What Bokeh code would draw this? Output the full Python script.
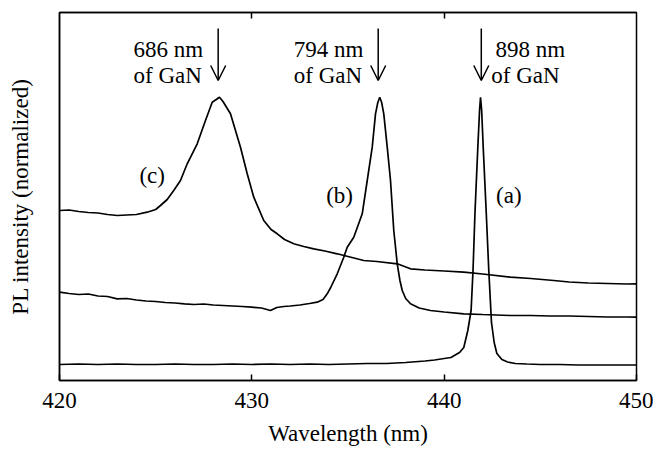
from bokeh.plotting import figure
from bokeh.models import Range1d, LinearAxis, FixedTicker, Arrow, OpenHead, ColumnDataSource
from bokeh.embed import file_html
from bokeh.resources import INLINE
from bokeh.core.properties import value

# ---- data (wavelength in nm, PL intensity in arbitrary normalized units) ----
a_x = [420, 421, 422, 423, 424, 425, 426, 427, 428, 429, 430, 431, 432, 433, 434, 435,
       436, 437, 438, 439, 439.5, 440, 440.35, 440.8, 441.02, 441.23, 441.4, 441.5, 441.6,
       441.75, 441.84, 441.89, 441.95, 442.03, 442.19, 442.32, 442.46, 442.6, 442.74,
       443.0, 443.3, 443.7, 444.3, 445, 446, 447, 448, 449, 450]
a_y = [16, 16.5, 16, 16.5, 16, 16, 16.5, 16, 16, 16.5, 16, 16.5, 16, 16.5, 16, 16.5,
       17, 17, 18, 19.5, 20.5, 22, 23, 28, 33, 50, 70, 110, 166.7,
       233.3, 270, 283.3, 270, 233.3, 166.7, 110, 58, 38, 27,
       21, 18.5, 17, 16.5, 16, 16, 15.5, 15.5, 15.5, 15.5]

b_x = [420, 420.5, 421, 421.5, 422, 422.5, 423, 423.5, 424, 424.5, 425, 425.5, 426, 426.5,
       427, 427.5, 428, 428.5, 429, 429.5, 430, 430.5, 430.97, 431.3, 431.66, 432, 432.5,
       433, 433.4, 433.7, 433.92, 434.1, 434.44, 434.78, 434.96, 435.3, 435.74, 436.0,
       436.26, 436.43, 436.55, 436.65, 436.75, 436.86, 437.04, 437.21, 437.38, 437.56,
       437.7, 437.82, 438.0, 438.25, 438.7, 439.29, 440, 441.02, 442, 443.45, 444.5,
       445.5, 446.5, 447.5, 448.5, 449.5, 450]
b_y = [88.3, 87, 86, 86.5, 84.5, 84, 81.7, 82, 80.5, 79.5, 79, 78, 77.5, 76.7,
       76, 76.5, 75.5, 75, 74.5, 74, 73.3, 72.5, 70, 73, 74, 74.5, 75.5,
       77, 78.3, 81, 86.7, 93, 106.7, 123.3, 133.3, 143.3, 166.7, 200,
       233.3, 266.7, 278, 283.3, 278, 266.7, 233.3, 200, 150, 116.7,
       100, 90, 82, 76.7, 72.5, 70, 68.5, 66.7, 66, 65, 65,
       64.5, 64.5, 64, 63.5, 63.5, 63.3]

c_x = [420, 420.5, 421, 421.5, 422, 422.5, 423, 423.5, 424, 424.56, 425, 425.25, 425.6,
       425.94, 426.29, 426.64, 427.16, 427.59, 427.94, 428.15, 428.32, 428.5, 428.89,
       429.41, 429.76, 430.1, 430.62, 431.0, 431.32, 431.7, 432.18, 432.7, 433.22, 433.8,
       434.44, 435, 435.82, 436.5, 437.56, 438.25, 439, 440, 441.02, 442, 443.45, 444.5,
       445.7, 446.5, 447.5, 448.5, 449.5, 450]
c_y = [170, 170.5, 169, 168, 167.5, 166, 165, 165.5, 166, 168.3, 171, 175, 181,
       190, 200, 216.7, 236.7, 260, 278.3, 281, 283.3, 279, 266.7,
       233.3, 206.7, 183.3, 160, 151, 146.7, 141, 136.7, 134, 131.7, 129.5,
       126.7, 124, 120, 119, 116.7, 111.7, 110.5, 109.5, 108.3, 106.5, 103.3, 102,
       100, 98.5, 97.5, 97, 96.5, 96.7]

x_ticks = [420, 430, 440, 450]
top_ticks = [430, 440]

# peak annotations
ann_x = [423.85, 423.85, 432.18, 432.18, 442.67, 442.45]
ann_y = [330.7, 305, 330.7, 305, 330.7, 305]
ann_text = ["686 nm", "of GaN", "794 nm", "of GaN", "898 nm", "of GaN"]

arrow_x = [428.25, 436.57, 441.93]
arrow_y0 = [352, 352, 352]
arrow_y1 = [300, 300, 300]

lab_x = [424.82, 434.56, 443.36]
lab_y = [205, 185, 185]
lab_text = ["(c)", "(b)", "(a)"]

FONT = "Liberation Serif"
FS = "23px"

p = figure(width=653, height=455, output_backend="svg", toolbar_location=None,
           x_range=Range1d(420, 450), y_range=Range1d(0, 368),
           x_axis_location=None, y_axis_location=None,
           min_border_left=59, min_border_right=17, min_border_top=12, min_border_bottom=75)
p.background_fill_color = "white"
p.border_fill_color = "white"
p.xgrid.visible = False
p.ygrid.visible = False
p.outline_line_color = "black"
p.outline_line_width = 1.5

xa = LinearAxis(ticker=FixedTicker(ticks=x_ticks), axis_label="Wavelength (nm)")
xa.major_tick_in = 6
xa.major_tick_out = 0
xa.minor_tick_line_color = None
xa.axis_line_color = "black"
xa.axis_line_width = 1.5
xa.major_tick_line_width = 1.5
xa.major_label_text_font = FONT
xa.major_label_text_font_size = FS
xa.major_label_text_color = "black"
xa.major_label_standoff = 12
xa.axis_label_text_font = FONT
xa.axis_label_text_font_size = FS
xa.axis_label_text_font_style = "normal"
xa.axis_label_text_color = "black"
xa.axis_label_standoff = 10
p.add_layout(xa, "below")

ta = LinearAxis(ticker=FixedTicker(ticks=top_ticks))
ta.major_tick_in = 6
ta.major_tick_out = 0
ta.minor_tick_line_color = None
ta.axis_line_color = "black"
ta.axis_line_width = 1.5
ta.major_tick_line_width = 1.5
ta.major_label_overrides = {430: "", 440: ""}
ta.major_label_standoff = 0
p.add_layout(ta, "above")

ya = LinearAxis(ticker=FixedTicker(ticks=[]), axis_label="PL intensity (normalized)")
ya.major_tick_in = 0
ya.major_tick_out = 0
ya.minor_tick_line_color = None
ya.axis_line_color = "black"
ya.axis_line_width = 1.5
ya.major_label_standoff = 0
ya.axis_label_text_font = FONT
ya.axis_label_text_font_size = FS
ya.axis_label_text_font_style = "normal"
ya.axis_label_text_color = "black"
ya.axis_label_standoff = 27
p.add_layout(ya, "left")

for xs, ys in [(a_x, a_y), (b_x, b_y), (c_x, c_y)]:
    p.line(xs, ys, line_color="black", line_width=1.7)

ann_src = ColumnDataSource(dict(x=ann_x, y=ann_y, t=ann_text))
p.text(x="x", y="y", text="t", source=ann_src, text_font=value(FONT),
       text_font_size=FS, text_color="black", text_align="left", text_baseline="alphabetic")

lab_src = ColumnDataSource(dict(x=lab_x, y=lab_y, t=lab_text))
p.text(x="x", y="y", text="t", source=lab_src, text_font=value(FONT),
       text_font_size=FS, text_color="black", text_align="center", text_baseline="alphabetic")

arr_src = ColumnDataSource(dict(x=arrow_x, y0=arrow_y0, y1=arrow_y1))
p.add_layout(Arrow(end=OpenHead(size=15, line_width=1.5, line_color="black"),
                   x_start="x", y_start="y0", x_end="x", y_end="y1",
                   line_width=1.5, line_color="black", source=arr_src))

open("out.html", "w").write(file_html(p, INLINE))
